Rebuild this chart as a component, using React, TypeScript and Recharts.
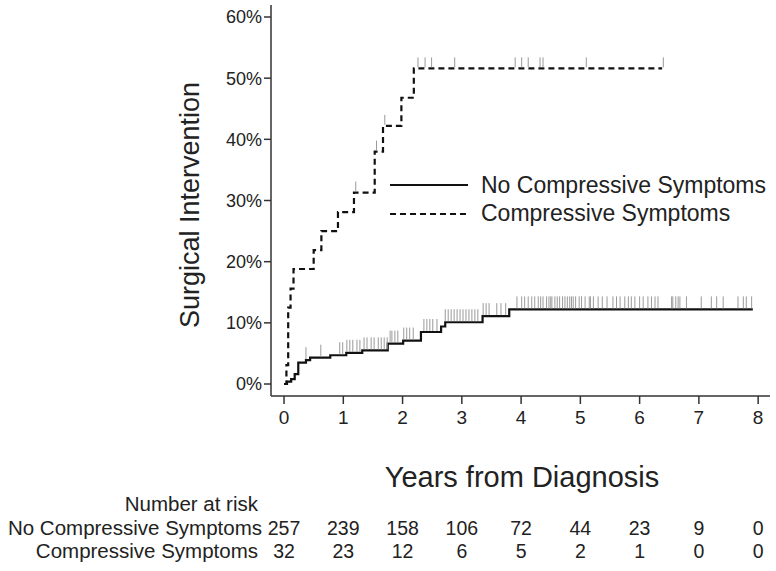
import React from 'react';
import { ComposedChart, Line, Scatter, XAxis, YAxis, Legend } from 'recharts';

// ---- data ----
const yearTicks = [0, 1, 2, 3, 4, 5, 6, 7, 8];
const pctTicks = [0, 10, 20, 30, 40, 50, 60];

const noCompTimes = [0, 0.05, 0.12, 0.18, 0.24, 0.37, 0.44, 0.78, 1.05, 1.32, 1.75, 2.01, 2.31, 2.65, 2.72, 3.35, 3.8, 7.91];
const noCompPct = [0, 0.4, 0.8, 1.6, 3.5, 3.9, 4.3, 4.7, 5.1, 5.5, 6.6, 7.1, 8.5, 9.4, 10.1, 11.1, 12.2, 12.2];

const compTimes = [0, 0.04, 0.07, 0.11, 0.16, 0.5, 0.63, 0.91, 1.18, 1.53, 1.67, 1.98, 2.19, 6.38];
const compPct = [0, 3.1, 12.5, 15.6, 18.8, 21.9, 25.0, 28.1, 31.3, 38.0, 42.2, 46.8, 51.6, 51.6];

const noCompCensor = [
  0.37, 0.62, 0.94, 0.99, 1.06, 1.11, 1.16, 1.23, 1.28, 1.35, 1.4, 1.47, 1.52, 1.59, 1.64, 1.69, 1.74, 1.79, 1.82, 1.87, 1.92,
  2.02, 2.07, 2.12, 2.18, 2.36, 2.41, 2.46, 2.51, 2.58, 2.72, 2.77, 2.82, 2.87, 2.92, 2.97, 3.02, 3.07, 3.12, 3.17, 3.22, 3.27,
  3.36, 3.41, 3.46, 3.59, 3.66, 3.74, 3.93, 4.01, 4.06, 4.12, 4.18, 4.23, 4.29, 4.33, 4.37, 4.43, 4.47, 4.5, 4.52, 4.57, 4.61,
  4.65, 4.7, 4.74, 4.78, 4.82, 4.85, 4.88, 4.92, 4.98, 5.02, 5.08, 5.15, 5.17, 5.22, 5.3, 5.37, 5.45, 5.55, 5.61, 5.67, 5.75,
  5.81, 5.86, 5.92, 6.0, 6.06, 6.14, 6.2, 6.26, 6.31, 6.54, 6.56, 6.61, 6.65, 6.68, 6.79, 7.04, 7.21, 7.3, 7.41, 7.66, 7.75,
  7.8, 7.89,
];
const compCensor = [1.21, 1.56, 1.7, 2.26, 2.38, 2.49, 2.88, 3.9, 4.01, 4.12, 4.32, 4.37, 5.1, 6.4];

const riskNoComp = [257, 239, 158, 106, 72, 44, 23, 9, 0];
const riskComp = [32, 23, 12, 6, 5, 2, 1, 0, 0];

const groupNames = ['No Compressive Symptoms', 'Compressive Symptoms'];

// ---- derived tables ----
const toSeries = (ts: number[], ps: number[]) => ts.map((t, i) => ({ t, y: ps[i] }));
const levelAt = (ts: number[], ps: number[], t: number) => {
  let v = ps[0];
  for (let i = 0; i < ts.length; i++) if (ts[i] <= t) v = ps[i];
  return v;
};
const noCompData = toSeries(noCompTimes, noCompPct);
const compData = toSeries(compTimes, compPct);
const noCompCensorData = noCompCensor.map((t) => ({ t, y: levelAt(noCompTimes, noCompPct, t) }));
const compCensorData = compCensor.map((t) => ({ t, y: levelAt(compTimes, compPct, t) }));

const FONT = '"Liberation Sans", Arial, Helvetica, sans-serif';
const TXT = '#222';

const censorShape = (h: number) => (p: any) => (
  <line x1={p.cx} x2={p.cx} y1={p.cy - 1} y2={p.cy - h} stroke="#9a9a9a" strokeWidth={1} />
);

const XTick = (props: any) => {
  const { x, y, payload, index } = props;
  return (
    <g fontFamily={FONT} fill={TXT}>
      <text x={x} y={y} dy={18} textAnchor="middle" fontSize={19} fill={TXT}>{payload.value}</text>
      <text x={x} y={y} dy={129} textAnchor="middle" fontSize={19.5} fill={TXT}>{riskNoComp[index]}</text>
      <text x={x} y={y} dy={152} textAnchor="middle" fontSize={19.5} fill={TXT}>{riskComp[index]}</text>
    </g>
  );
};

const XTitle = () => (
  <g fontFamily={FONT} fill={TXT}>
    <text x={522} y={487} textAnchor="middle" fontSize={29} fill={TXT}>Years from Diagnosis</text>
    <text x={258} y={511} textAnchor="end" fontSize={20.5} fill={TXT}>Number at risk</text>
    <text x={262} y={535} textAnchor="end" fontSize={20.5} fill={TXT}>{groupNames[0]}</text>
    <text x={258} y={558} textAnchor="end" fontSize={20.5} fill={TXT}>{groupNames[1]}</text>
  </g>
);

const YTitle = () => (
  <text
    transform="translate(190,205) rotate(-90)"
    textAnchor="middle"
    dominantBaseline="central"
    fontSize={27}
    fontFamily={FONT}
    fill={TXT}
  >
    Surgical Intervention
  </text>
);

const LegendContent = () => (
  <div style={{ fontFamily: FONT, color: TXT, fontSize: 23 }}>
    {groupNames.map((name, i) => (
      <div key={name} style={{ display: 'flex', alignItems: 'center', height: 28.5 }}>
        <svg width={91} height={10} style={{ display: 'block' }}>
          <line
            x1={0}
            x2={78}
            y1={5}
            y2={5}
            stroke="#111"
            strokeWidth={2}
            strokeDasharray={i === 1 ? '6 4' : undefined}
          />
        </svg>
        <span style={{ whiteSpace: 'nowrap' }}>{name}</span>
      </div>
    ))}
  </div>
);

export default function App() {
  return (
    <div style={{ position: 'absolute', left: 0, top: 0, width: 776, height: 571, background: '#fff' }}>
      <ComposedChart
        width={776}
        height={571}
        margin={{ top: 5, right: 6, left: 0, bottom: 0 }}
        style={{ fontFamily: FONT }}
      >
        <XAxis
          dataKey="t"
          type="number"
          domain={[-0.22, 8.2]}
          ticks={yearTicks}
          allowDataOverflow
          height={175}
          tickSize={8}
          stroke="#333"
          axisLine={{ stroke: '#333', strokeWidth: 1.5 }}
          tickLine={{ stroke: '#333', strokeWidth: 1.5 }}
          tick={<XTick />}
          interval={0}
          label={{ content: <XTitle /> }}
        />
        <YAxis
          type="number"
          domain={[-1.96, 61.96]}
          ticks={pctTicks}
          allowDataOverflow
          width={271}
          tickSize={7}
          tickMargin={2}
          axisLine={{ stroke: '#333', strokeWidth: 1.5 }}
          tickLine={{ stroke: '#333', strokeWidth: 1.5 }}
          tick={{ fontSize: 18, fill: TXT, fontFamily: FONT }}
          tickFormatter={(v: number) => `${v}%`}
          label={{ content: <YTitle /> }}
        />
        <Legend
          layout="vertical"
          align="center"
          verticalAlign="middle"
          wrapperStyle={{ left: 390, top: 171, width: 385 }}
          content={<LegendContent />}
        />
        <Scatter data={noCompCensorData} dataKey="y" shape={censorShape(13)} isAnimationActive={false} legendType="none" />
        <Scatter data={compCensorData} dataKey="y" shape={censorShape(11)} isAnimationActive={false} legendType="none" />
        <Line
          data={noCompData}
          dataKey="y"
          type="stepAfter"
          stroke="#111"
          strokeWidth={2.2}
          dot={false}
          isAnimationActive={false}
        />
        <Line
          data={compData}
          dataKey="y"
          type="stepAfter"
          stroke="#111"
          strokeWidth={2.2}
          strokeDasharray="6 4"
          dot={false}
          isAnimationActive={false}
        />
      </ComposedChart>
    </div>
  );
}
